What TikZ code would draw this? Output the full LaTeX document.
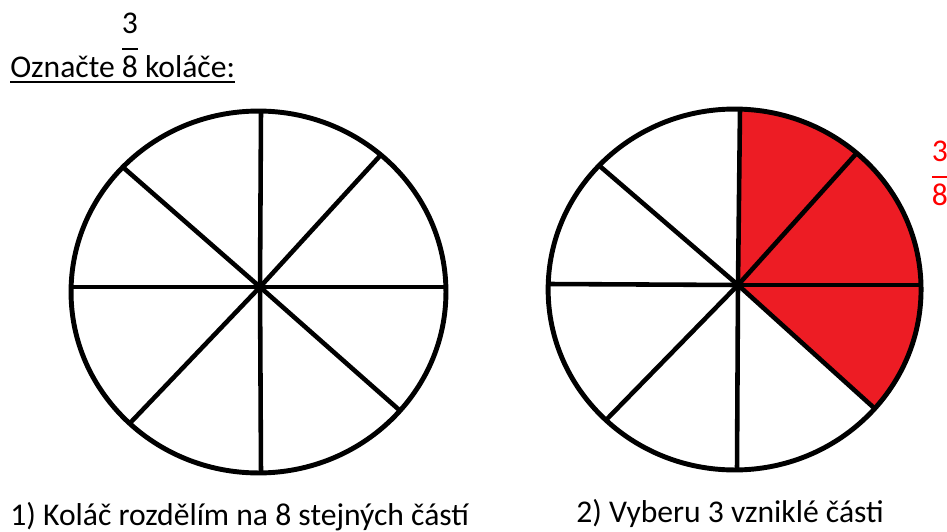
\documentclass[tikz,border=0pt]{standalone}
\usepackage{fontspec}
\setmainfont{Carlito}
\usetikzlibrary{calc}
\definecolor{paintred}{RGB}{237,28,36}
\newcommand{\stackfrac}[2]{\ooalign{\hfil#2\hfil\cr\hfil\raisebox{24.5pt}{#1}\hfil\cr\hfil\rule[15.6pt]{0.5em}{0.8pt}\hfil\cr}}

\begin{document}
\begin{tikzpicture}[x=0.02cm, y=-0.02cm,
        rim/.style={line width=2.8pt},
        spoke/.style={line width=2.6pt},
        txt/.style={inner sep=0pt, font=\fontsize{18}{21}\selectfont}]
    \useasboundingbox (0,0) rectangle (947,531);

    % left pie: 8 equal parts
    \coordinate (lo) at (258.5,292);
    \coordinate (lc) at (260,287);
    \begin{scope}
        \clip (lo) ellipse [x radius=3.75cm, y radius=3.62cm];
        \foreach \px/\py in {261/111, 261/473, 72/287, 445/287, 125/169, 397/408, 378/158, 132/421}
            \draw[spoke] (lc) -- ($(lc)!1.3!(\px,\py)$);
    \end{scope}
    \draw[rim] (lo) ellipse [x radius=3.75cm, y radius=3.62cm];

    % right pie: 3 parts chosen
    \coordinate (ro) at (734.6,289.5);
    \coordinate (rc) at (738,285);
    \coordinate (rt) at (740,109);
    \coordinate (rur) at (855,155);
    \coordinate (rr) at (920,285);
    \coordinate (rlr) at (873,407);
    \coordinate (rb) at (737,470);
    \coordinate (rll) at (608,418);
    \coordinate (rl) at (549,284);
    \coordinate (rul) at (602,168);
    \begin{scope}
        \clip (ro) ellipse [x radius=3.73cm, y radius=3.61cm];
        \fill[paintred] (rc) -- ($(rc)!1.3!(rt)$) -- ($(rc)!1.3!(rur)$) -- ($(rc)!1.3!(rr)$) -- ($(rc)!1.3!(rlr)$) -- cycle;
        \foreach \n in {rt, rur, rr, rlr, rb, rll, rl, rul}
            \draw[spoke] (rc) -- ($(rc)!1.3!(\n)$);
    \end{scope}
    \draw[rim] (ro) ellipse [x radius=3.73cm, y radius=3.61cm];

    \node[name=zadani, txt, anchor=base west] at (10,77) {Označte \stackfrac{3}{8} koláče:};
    \draw[line width=1.1pt] ([yshift=-2.7pt]zadani.base west) -- ([yshift=-2.7pt]zadani.base east);
    \node[name=podil, txt, anchor=base, text=red] at (940,205) {\stackfrac{3}{8}};
    \node[name=krok1, txt, anchor=base west] at (10,525) {1) Koláč rozdělím na 8 stejných částí};
    \node[name=krok2, txt, anchor=base west] at (576,522) {2) Vyberu 3 vzniklé části};
\end{tikzpicture}
\end{document}
